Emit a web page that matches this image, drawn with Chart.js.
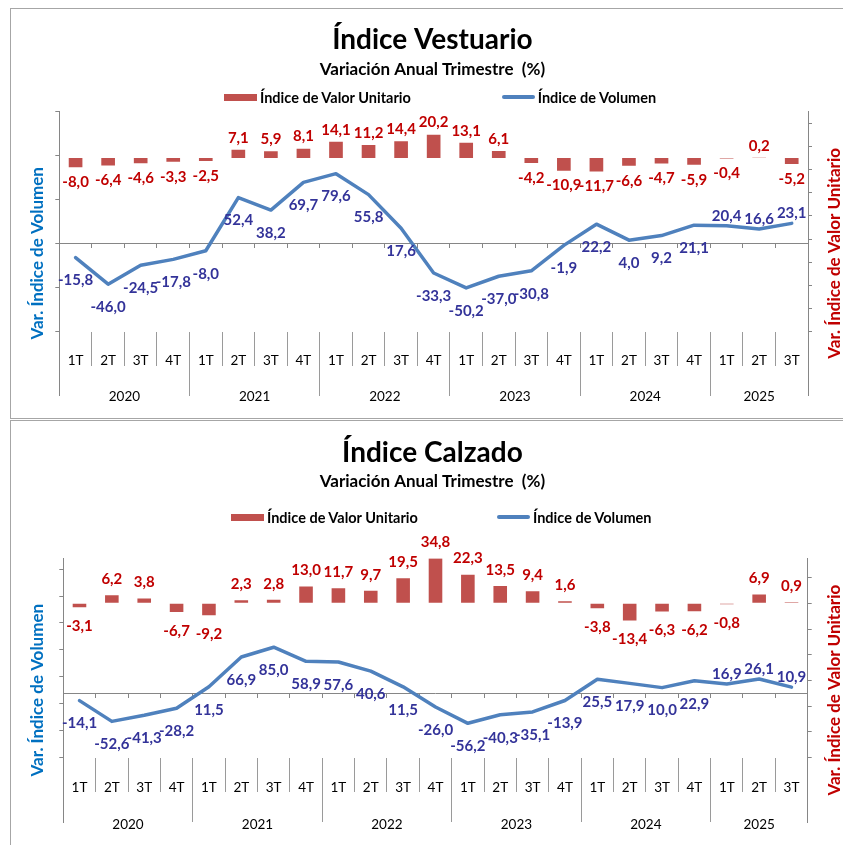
<!DOCTYPE html>
<html><head><meta charset="utf-8">
<script src="https://cdn.jsdelivr.net/npm/chart.js@4.4.1/dist/chart.umd.min.js"></script>
<style>
html,body{margin:0;padding:0;background:#fff;width:843px;height:845px;overflow:hidden;font-family:Lato,"Open Sans",sans-serif}
.frame{position:absolute;left:10px;width:880px;border:1px solid #a6a6a6;}
#f1{top:8px;height:409px}
#f2{top:420px;height:450px}
canvas{position:absolute;left:0;top:0}
.legend{position:absolute;left:0;top:0;width:844px;height:20px;font:bold 14.5px Lato,"Open Sans",sans-serif;color:#000;white-space:nowrap}
.legend .item{position:absolute;top:0;height:20px;display:flex;align-items:center}
.legend .sw{display:inline-block;width:33px;margin-right:3px}
</style></head>
<body>
<div class="frame" id="f1"><canvas id="c1" width="844" height="409"></canvas><div class="legend" id="l1"></div></div>
<div class="frame" id="f2"><canvas id="c2" width="844" height="424"></canvas><div class="legend" id="l2"></div></div>
<script>
// ---------- DATA ----------
const quarters = ['1T','2T','3T','4T','1T','2T','3T','4T','1T','2T','3T','4T','1T','2T','3T','4T','1T','2T','3T','4T','1T','2T','3T'];
const years = ['2020','2021','2022','2023','2024','2025'];
const quartersPerYear = [4,4,4,4,4,3];

const vestValorUnitario = [-8.0,-6.4,-4.6,-3.3, -2.5,7.1,5.9,8.1, 14.1,11.2,14.4,20.2, 13.1,6.1,-4.2,-10.9, -11.7,-6.6,-4.7,-5.9, -0.4,0.2,-5.2];
const vestVolumen      = [-15.8,-46.0,-24.5,-17.8, -8.0,52.4,38.2,69.7, 79.6,55.8,17.6,-33.3, -50.2,-37.0,-30.8,-1.9, 22.2,4.0,9.2,21.1, 20.4,16.6,23.1];

const calzValorUnitario = [-3.1,6.2,3.8,-6.7, -9.2,2.3,2.8,13.0, 11.7,9.7,19.5,34.8, 22.3,13.5,9.4,1.6, -3.8,-13.4,-6.3,-6.2, -0.8,6.9,0.9];
const calzVolumen       = [-14.1,-52.6,-41.3,-28.2, 11.5,66.9,85.0,58.9, 57.6,40.6,11.5,-26.0, -56.2,-40.3,-35.1,-13.9, 25.5,17.9,10.0,22.9, 16.9,26.1,10.9];

// volume points whose value label sits above the line (as in the original)
const vestVolLabelAbove = [20, 21, 22];
const calzVolLabelAbove = [20, 21, 22];

// axis ranges & tick values
const vestVolRange = [-100,150];
const vestVolTicks = [-100,-50,0,50,100,150];
const vestValRange = [-150,40];
const vestValTicks = [-150,-130,-110,-90,-70,-50,-30,-10,10,30];
const calzVolRange = [-120,250];
const calzVolTicks = [-120,-70,-20,30,80,130,180,230];
const calzValRange = [-120,35];
const calzValTicks = [-120,-100,-80,-60,-40,-20,0,20];

const seriesNames = ['Índice de Valor Unitario','Índice de Volumen'];
const subtitleText = 'Variación Anual Trimestre  (%)';
const leftTitleText = 'Var. Índice de Volumen';
const rightTitleText = 'Var. Índice de Valor Unitario';

// ---------- helpers ----------
const FAM = 'Lato, "Open Sans", sans-serif';
const AXIS = '#868686';
const SEP = '#9a9a9a';
function fmt(v){ return v.toFixed(1).replace('.', ','); }

const yearBounds = [-0.5];
const yearCenters = [];
quartersPerYear.reduce((start, n) => {
  yearCenters.push(start + (n - 1) / 2);
  yearBounds.push(start + n - 0.5);
  return start + n;
}, 0);

const valueLabels = {
  id: 'valueLabels',
  afterDatasetsDraw(chart, args, opts) {
    const ctx = chart.ctx;
    ctx.save();
    ctx.font = 'bold ' + opts.size + 'px ' + FAM;
    ctx.textAlign = 'center';
    ctx.textBaseline = 'middle';
    chart.data.datasets.forEach((ds, i) => {
      const meta = chart.getDatasetMeta(i);
      ctx.fillStyle = ds.labelColor;
      meta.data.forEach((el, j) => {
        const v = ds.data[j];
        let y;
        if (ds.type === 'line') {
          y = (ds.labelAbove || []).includes(j) ? el.y - opts.lineAboveOffset : el.y + opts.lineOffset;
        } else {
          y = v >= 0 ? el.y - opts.barPosOffset : el.y + opts.barNegOffset;
        }
        ctx.fillText(fmt(v), el.x, y);
      });
    });
    ctx.restore();
  }
};

const rightTitle = {
  id: 'rightTitle',
  afterDraw(chart, args, opts) {
    const {ctx, chartArea} = chart;
    const sc = chart.scales.y2;
    ctx.save();
    ctx.translate(sc.right - opts.inset, (chartArea.top + chartArea.bottom) / 2);
    ctx.rotate(-Math.PI / 2);
    ctx.font = 'bold ' + opts.size + 'px ' + FAM;
    ctx.fillStyle = opts.color;
    ctx.textAlign = 'center';
    ctx.textBaseline = 'middle';
    ctx.fillText(opts.text, 0, 0);
    ctx.restore();
  }
};

const htmlLegend = {
  id: 'htmlLegend',
  afterUpdate(chart, args, opts) {
    const box = document.getElementById(opts.containerID);
    box.style.top = opts.top + 'px';
    box.innerHTML = '';
    const items = Chart.defaults.plugins.legend.labels.generateLabels(chart)
      .sort((a, b) => a.datasetIndex - b.datasetIndex);
    items.forEach((item, k) => {
      const div = document.createElement('div');
      div.className = 'item';
      div.style.left = opts.lefts[k] + 'px';
      const sw = document.createElement('span');
      sw.className = 'sw';
      const ds = chart.data.datasets[item.datasetIndex];
      if (ds.type === 'line') {
        sw.style.height = ds.borderWidth + 'px';
        sw.style.background = ds.borderColor;
        sw.style.borderRadius = '2px';
      } else {
        sw.style.height = '7px';
        sw.style.background = ds.backgroundColor;
      }
      div.appendChild(sw);
      const t = document.createElement('span');
      t.textContent = item.text;
      div.appendChild(t);
      box.appendChild(div);
    });
  }
};

function makeChart(canvasId, legendId, title, bars, line, lineAbove, volRange, volTicks, valRange, valTicks, L) {
  const [vMin, vMax] = volRange;
  const [uMin, uMax] = valRange;
  const vExtMin = vMin - (vMax - vMin) * L.ext;
  const uExtMin = uMin - (uMax - uMin) * L.ext;
  const TS = 28, SS = 17, AS = 17;
  const titleBottom = L.titleCenter + TS * 0.6;
  return new Chart(document.getElementById(canvasId), {
    type: 'bar',
    data: {
      labels: quarters,
      datasets: [
        { label: seriesNames[0], data: bars, yAxisID: 'y2', xAxisID: 'x',
          backgroundColor: '#C0504D', borderWidth: 0, barPercentage: 0.42, categoryPercentage: 1,
          labelColor: '#C00000', order: 1 },
        { type: 'line', label: seriesNames[1], data: line, yAxisID: 'y', xAxisID: 'x',
          borderColor: '#4F81BD', backgroundColor: '#4F81BD', borderWidth: 3.5, pointRadius: 0,
          tension: 0, fill: false, borderJoinStyle: 'round', borderCapStyle: 'round',
          labelColor: '#333399', labelAbove: lineAbove, order: 0 }
      ]
    },
    options: {
      responsive: false,
      animation: false,
      devicePixelRatio: 1,
      layout: { padding: { left: 14 - (AS - 15) * 0.6, right: 14, top: 0, bottom: L.padBottom } },
      plugins: {
        legend: { display: false },
        tooltip: { enabled: false },
        title: { display: true, text: title, color: '#000',
          font: { family: FAM, size: TS, weight: 'bold' },
          padding: { top: L.titleCenter - TS * 0.6, bottom: 0 } },
        subtitle: { display: true, text: subtitleText, color: '#000',
          font: { family: FAM, size: SS, weight: 'bold' },
          padding: { top: L.subCenter - SS * 0.6 - titleBottom, bottom: L.areaTop - (L.subCenter + SS * 0.6) } },
        valueLabels: { size: 15, barPosOffset: L.barPos, barNegOffset: L.barNeg, lineOffset: 23, lineAboveOffset: 10 },
        rightTitle: { text: rightTitleText, color: '#C00000', size: AS, inset: 6 },
        htmlLegend: { containerID: legendId, top: L.legendTop, lefts: L.legendLefts }
      },
      scales: {
        x: { axis: 'x', type: 'category', position: { y: vMin }, offset: true,
          grid: { display: false }, border: { display: false },
          ticks: { color: '#000', font: { family: FAM, size: 13.5 }, padding: L.qLabelPad, autoSkip: false, maxRotation: 0 } },
        xSep: { axis: 'x', type: 'category', position: { y: vMin }, offset: true,
          grid: { offset: true, drawOnChartArea: false, tickLength: L.qSepLen, color: SEP },
          border: { display: false }, ticks: { display: false } },
        xYearSep: { axis: 'x', type: 'linear', position: { y: vMin }, offset: false,
          min: -0.5, max: quarters.length - 0.5,
          afterBuildTicks: a => { a.ticks = yearBounds.map(v => ({ value: v })); },
          grid: { offset: false, drawOnChartArea: false, tickLength: L.ySepLen, color: SEP },
          border: { display: false }, ticks: { display: false } },
        xYear: { axis: 'x', type: 'linear', position: { y: vMin }, offset: false,
          min: -0.5, max: quarters.length - 0.5,
          afterBuildTicks: a => { a.ticks = yearCenters.map(v => ({ value: v })); },
          grid: { display: false, offset: false }, border: { display: false },
          ticks: { callback: (v, i) => years[i], padding: L.yLabelPad, color: '#000',
            font: { family: FAM, size: 13.5 }, autoSkip: false, maxRotation: 0 } },
        xZero: { axis: 'x', type: 'category', position: { y: 0 }, offset: true,
          grid: { offset: true, drawOnChartArea: false, tickLength: 4, color: AXIS },
          border: { display: true, color: AXIS, width: 1 }, ticks: { display: false } },
        y: { type: 'linear', position: 'left', min: vExtMin, max: vMax,
          afterBuildTicks: a => { a.ticks = volTicks.map(v => ({ value: v })); },
          ticks: { display: false },
          grid: { drawOnChartArea: false, tickLength: 4, color: AXIS },
          border: { color: AXIS },
          title: { display: true, text: leftTitleText, color: '#0070C0',
            font: { family: FAM, size: AS, weight: 'bold' }, padding: { top: 4, bottom: L.leftTitlePadB - (AS - 15) * 0.6 } } },
        y2: { type: 'linear', position: 'right', min: uExtMin, max: uMax,
          afterBuildTicks: a => { a.ticks = valTicks.map(v => ({ value: v })); },
          ticks: { display: false },
          grid: { drawOnChartArea: false, tickLength: 4, color: AXIS },
          border: { color: AXIS },
          title: { display: true, text: '', font: { family: FAM, size: 15, weight: 'bold' },
            padding: { top: 5, bottom: L.rightTitlePadB } } }
      }
    },
    plugins: [valueLabels, rightTitle, htmlLegend]
  });
}

makeChart('c1', 'l1', 'Índice Vestuario', vestValorUnitario, vestVolumen, vestVolLabelAbove,
  vestVolRange, vestVolTicks, vestValRange, vestValTicks,
  { titleCenter: 31, subCenter: 61, areaTop: 102.7, padBottom: 23, ext: 0.2877,
    leftTitlePadB: 8.3, rightTitlePadB: 6, qLabelPad: 12.5, yLabelPad: 48.5, qSepLen: 34, ySepLen: 64,
    legendTop: 78, legendLefts: [213, 490.7], barPos: 12, barNeg: 15 });

makeChart('c2', 'l2', 'Índice Calzado', calzValorUnitario, calzVolumen, calzVolLabelAbove,
  calzVolRange, calzVolTicks, calzValRange, calzValTicks,
  { titleCenter: 31.7, subCenter: 60.7, areaTop: 137.3, padBottom: 23, ext: 0.3225,
    leftTitlePadB: 12.3, rightTitlePadB: 6.3, qLabelPad: 13.5, yLabelPad: 50.5, qSepLen: 34, ySepLen: 64,
    legendTop: 86, legendLefts: [220, 486], barPos: 16, barNeg: 19 });
</script>
</body></html>
